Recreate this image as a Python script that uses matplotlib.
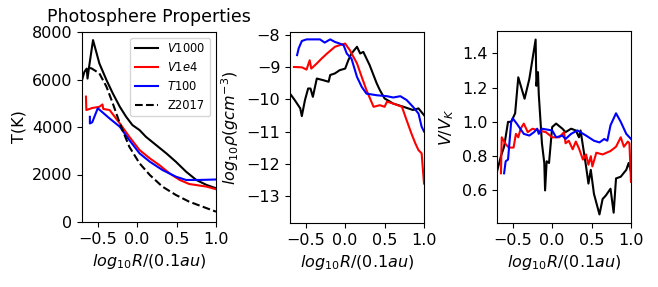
import matplotlib
matplotlib.use("Agg")
import matplotlib.pyplot as plt

# Temperature panel
v1000_x = [-0.70, -0.67, -0.64, -0.63, -0.61, -0.56, -0.48, -0.39, -0.31, -0.22, -0.14, -0.06, 0.03,
           0.11, 0.24, 0.37, 0.49, 0.62, 0.75, 0.88, 1.00]
v1000_T = [5970, 6320, 6460, 6040, 6530, 7660, 6680, 5980, 5420, 4850, 4430, 4080, 3870,
           3590, 3240, 2890, 2540, 2120, 1770, 1560, 1420]
v1e4_x = [-0.65, -0.645, -0.57, -0.48, -0.44, -0.43, -0.35, -0.22, -0.10, 0.03, 0.16, 0.28,
          0.41, 0.54, 0.66, 0.88, 1.00]
v1e4_T = [5280, 4715, 4800, 4850, 4950, 4760, 4715, 4150, 3590, 3030, 2680, 2400,
          2050, 1770, 1600, 1490, 1380]
t100_x = [-0.60, -0.60, -0.57, -0.50, -0.35, -0.22, -0.10, 0.03, 0.16, 0.32, 0.49, 0.62, 0.79, 1.00]
t100_T = [4430, 4150, 4200, 4790, 4360, 4010, 3450, 2890, 2540, 2190, 1910, 1770, 1770, 1790]
z2017_x = [-0.60, -0.58, -0.48, -0.39, -0.31, -0.22, -0.10, 0.03, 0.16, 0.32, 0.49, 0.66, 0.83, 1.00]
z2017_T = [6480, 6470, 6260, 5700, 5000, 4150, 3170, 2470, 1980, 1490, 1140, 855, 645, 435]

# Density panel
v1000_rx = [-0.70, -0.64, -0.57, -0.55, -0.51, -0.47, -0.44, -0.41, -0.36, -0.28, -0.21, -0.19, -0.13,
            -0.07, 0.00, 0.04, 0.08, 0.15, 0.19, 0.23, 0.31, 0.40, 0.44, 0.50, 0.61, 0.74, 0.86, 0.93, 1.00]
v1000_rho = [-9.82, -10.02, -10.28, -10.52, -10.02, -9.66, -9.66, -9.92, -9.35, -9.40, -9.45, -9.24, -9.19,
             -9.09, -9.04, -8.78, -8.57, -8.36, -8.57, -8.52, -8.93, -9.50, -9.71, -9.97, -10.13, -10.23,
             -10.33, -10.28, -10.49]
v1e4_rx = [-0.65, -0.55, -0.49, -0.45, -0.43, -0.36, -0.30, -0.23, -0.13, -0.07, 0.00, 0.06, 0.15,
           0.21, 0.27, 0.36, 0.44, 0.50, 0.53, 0.61, 0.72, 0.78, 0.84, 0.89, 0.93, 0.97, 1.00]
v1e4_rho = [-8.99, -9.00, -9.07, -8.78, -9.04, -8.88, -8.73, -8.57, -8.36, -8.31, -8.26, -8.47, -8.88,
            -9.30, -9.71, -10.23, -10.18, -10.23, -10.07, -10.13, -10.23, -10.65, -11.06, -11.37,
            -11.58, -11.68, -12.62]
t100_rx = [-0.61, -0.59, -0.55, -0.49, -0.32, -0.26, -0.19, -0.13, -0.07, -0.02, 0.02, 0.08, 0.15,
           0.21, 0.27, 0.40, 0.53, 0.61, 0.70, 0.78, 0.86, 0.93, 0.97, 1.00]
t100_rho = [-8.62, -8.41, -8.18, -8.13, -8.13, -8.23, -8.13, -8.21, -8.26, -8.31, -8.57, -8.73, -9.30,
            -9.61, -9.82, -9.87, -9.90, -9.94, -9.90, -10.02, -10.23, -10.44, -10.85, -11.00]

# Velocity panel
v1000_vx = [-0.70, -0.65, -0.61, -0.56, -0.52, -0.47, -0.43, -0.35, -0.29, -0.21, -0.20, -0.18, -0.17,
            -0.13, -0.10, -0.09, -0.07, -0.04, 0.00, 0.05, 0.13, 0.17, 0.24, 0.30, 0.34, 0.36, 0.41,
            0.43, 0.46, 0.49, 0.53, 0.60, 0.64, 0.68, 0.74, 0.78, 0.81, 0.87, 0.94, 0.97, 1.00]
v1000_v = [0.71, 0.80, 0.855, 1.00, 1.00, 1.05, 1.26, 1.135, 1.25, 1.48, 1.21, 1.29, 1.16,
           0.875, 0.76, 0.60, 0.77, 0.76, 0.97, 0.99, 0.96, 0.94, 0.96, 0.95, 0.91, 0.95, 0.80,
           0.74, 0.64, 0.72, 0.58, 0.46, 0.55, 0.57, 0.61, 0.47, 0.67, 0.68, 0.72, 0.76, 0.71]
v1e4_vx = [-0.65, -0.64, -0.59, -0.55, -0.49, -0.46, -0.43, -0.40, -0.36, -0.31, -0.25, -0.17, -0.08,
           0.00, 0.09, 0.15, 0.17, 0.21, 0.26, 0.30, 0.34, 0.39, 0.43, 0.46, 0.49, 0.51, 0.56, 0.64,
           0.74, 0.81, 0.87, 0.91, 0.96, 0.98, 1.00]
v1e4_v = [0.70, 0.91, 0.87, 0.85, 0.85, 0.93, 0.91, 0.96, 0.99, 0.94, 0.96, 0.95, 0.94,
          0.91, 0.91, 0.94, 0.875, 0.89, 0.84, 0.885, 0.845, 0.78, 0.81, 0.75, 0.80, 0.74, 0.82, 0.81,
          0.83, 0.855, 0.91, 0.855, 0.885, 0.875, 0.65]
t100_vx = [-0.61, -0.59, -0.56, -0.52, -0.50, -0.45, -0.36, -0.29, -0.23, -0.19, -0.17, -0.13, 0.00,
           0.05, 0.13, 0.17, 0.24, 0.32, 0.43, 0.53, 0.60, 0.66, 0.70, 0.74, 0.81, 0.87, 0.94, 1.00]
t100_v = [0.70, 0.77, 0.78, 1.00, 1.02, 0.99, 0.93, 0.92, 0.94, 0.96, 0.93, 0.96, 0.95,
          0.91, 0.92, 0.90, 0.93, 0.95, 0.92, 0.89, 0.88, 0.90, 0.89, 0.98, 1.05, 1.00, 0.93, 0.90]

plt.rcParams['font.size'] = 11.5
fig = plt.figure(figsize=(6.58, 2.87), dpi=100)
W, H = 658, 287
ax1 = fig.add_axes([82 / W, 1 - 222 / H, 134 / W, 190 / H])
ax2 = fig.add_axes([290 / W, 1 - 223 / H, 134 / W, 191 / H])
ax3 = fig.add_axes([497 / W, 1 - 223 / H, 134 / W, 192 / H])

xlab = r'$log_{10}R/(0.1au)$'

ax1.plot(v1000_x, v1000_T, color='black', lw=1.5, label=r'$V1000$')
ax1.plot(v1e4_x, v1e4_T, color='red', lw=1.5, label=r'$V1e4$')
ax1.plot(t100_x, t100_T, color='blue', lw=1.5, label=r'$T100$')
ax1.plot(z2017_x, z2017_T, color='black', ls='--', lw=1.5, label='Z2017')
ax1.set_xlim(-0.7, 1.0)
ax1.set_ylim(0, 8000)
ax1.set_yticks([0, 2000, 4000, 6000, 8000])
ax1.set_ylabel('T(K)')
ax1.set_xlabel(xlab)
ax1.set_title('Photosphere Properties', fontsize=12.5, pad=7)
ax1.legend(loc='upper right', fontsize=8.3)

ax2.plot(v1000_rx, v1000_rho, color='black', lw=1.5)
ax2.plot(v1e4_rx, v1e4_rho, color='red', lw=1.5)
ax2.plot(t100_rx, t100_rho, color='blue', lw=1.5)
ax2.set_xlim(-0.7, 1.0)
ax2.set_ylim(-13.85, -7.9)
ax2.set_yticks([-13, -12, -11, -10, -9, -8])
ax2.set_ylabel(r'$log_{10}\rho(gcm^{-3})$')
ax2.set_xlabel(xlab)

ax3.plot(v1000_vx, v1000_v, color='black', lw=1.5)
ax3.plot(v1e4_vx, v1e4_v, color='red', lw=1.5)
ax3.plot(t100_vx, t100_v, color='blue', lw=1.5)
ax3.set_xlim(-0.7, 1.0)
ax3.set_ylim(0.41, 1.53)
ax3.set_yticks([0.6, 0.8, 1.0, 1.2, 1.4])
ax3.set_ylabel(r'$V/V_K$')
ax3.set_xlabel(xlab)

for ax in (ax1, ax2, ax3):
    ax.set_xticks([-0.5, 0.0, 0.5, 1.0])

fig.savefig('out.png', dpi=100)
